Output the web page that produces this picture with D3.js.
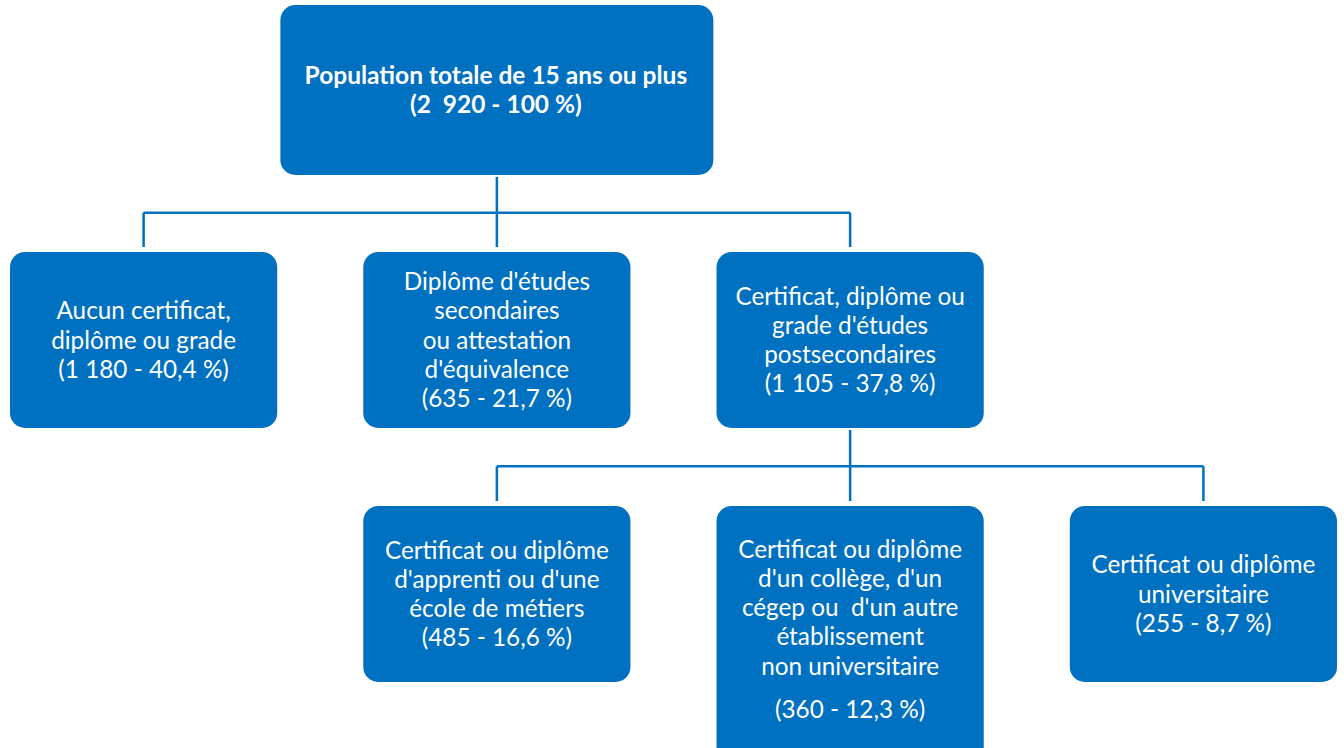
<!DOCTYPE html>
<html>
<head>
<meta charset="utf-8">
<script src="https://cdn.jsdelivr.net/npm/d3@7"></script>
<style>
  body { margin: 0; background: #fff; }
  svg { display: block; }
  text { font-family: Lato, "Open Sans", sans-serif; fill: #fff; white-space: pre; }
</style>
</head>
<body>
<svg id="chart" width="1344" height="748"></svg>
<script>
// données du niveau de scolarité (population de 15 ans ou plus)
const labels = [
  ["Population totale de 15 ans ou plus"],
  ["Aucun certificat,", "diplôme ou grade"],
  ["Diplôme d'études", "secondaires", "ou attestation", "d'équivalence"],
  ["Certificat, diplôme ou", "grade d'études", "postsecondaires"],
  ["Certificat ou diplôme", "d'apprenti ou d'une", "école de métiers"],
  ["Certificat ou diplôme", "d'un collège, d'un", "cégep ou  d'un autre", "établissement", "non universitaire"],
  ["Certificat ou diplôme", "universitaire"]
];
const counts = [2920, 1180, 635, 1105, 485, 360, 255];
const percents = [100, 40.4, 21.7, 37.8, 16.6, 12.3, 8.7];
const parents = [null, 0, 0, 0, 3, 3, 3];
const levels = [0, 1, 1, 1, 2, 2, 2];
const columns = [1, 0, 1, 2, 1, 2, 3];

const blue = "#0070C0";
const svg = d3.select("#chart");

const fr = d3.formatLocale({decimal: ",", thousands: " ", grouping: [3], currency: ["", " $"]});
const fmtN = fr.format(",d");
const fmtP = fr.format(".1~f");

const x = d3.scaleBand().domain([0, 1, 2, 3]).range([10, 1337]).paddingInner(0.2436);
const y = d3.scaleOrdinal().domain([0, 1, 2]).range([5, 252, 506]);

const nodes = labels.map((l, i) => {
  const root = levels[i] === 0;
  const w = root ? 433 : x.bandwidth();
  const cx = x(columns[i]) + x.bandwidth() / 2;
  const h = root ? 170 : (i === 5 ? 256 : 176);
  // le total a deux espaces dans l'original
  const n = root ? fmtN(counts[i]).replace(" ", "  ") : fmtN(counts[i]);
  return {i, lines: l, cx, x0: cx - w / 2, w, y0: y(levels[i]), h, root,
    value: "(" + n + " - " + fmtP(percents[i]) + " %)"};
});

// connecteurs
const lineG = svg.append("g").attr("stroke", blue).attr("stroke-width", 2.5).attr("fill", "none");
d3.groups(nodes.filter(n => parents[n.i] !== null), n => parents[n.i]).forEach(([p, kids]) => {
  const par = nodes[p];
  const top = par.y0 + par.h + 2;
  const bot = kids[0].y0 - 5;
  const mid = top + (bot - top) * 0.51;
  lineG.append("path").attr("d", `M${par.cx},${top}V${mid}`);
  lineG.append("path").attr("d", `M${d3.min(kids, k => k.cx)},${mid}H${d3.max(kids, k => k.cx)}`);
  kids.forEach(k => lineG.append("path").attr("d", `M${k.cx},${mid}V${bot}`));
});

// boîtes
const box = svg.selectAll("g.node").data(nodes).join("g").attr("class", "node");
box.append("rect")
  .attr("x", d => d.x0).attr("y", d => d.y0)
  .attr("width", d => d.w).attr("height", d => d.h)
  .attr("rx", 15).attr("ry", 15)
  .attr("fill", blue);

const lh = 29.3;
box.each(function(d) {
  const g = d3.select(this);
  const all = d.lines.concat([d.value]);
  const gap = d.i === 5 ? 14 : 0;
  const total = (all.length - 1) * lh + gap;
  const cy = d.i === 5 ? 549 + total / 2 : d.y0 + d.h / 2;
  all.forEach((t, k) => {
    const extra = (k === all.length - 1) ? gap : 0;
    g.append("text")
      .attr("x", d.cx + (d.root ? -1 : 0))
      .attr("y", cy - total / 2 + k * lh + extra)
      .attr("dy", "0.35em")
      .attr("text-anchor", "middle")
      .attr("font-size", d.root ? 24.5 : 24.3)
      .attr("font-weight", d.root ? "bold" : "normal")
      .text(t);
  });
});
</script>
</body>
</html>
